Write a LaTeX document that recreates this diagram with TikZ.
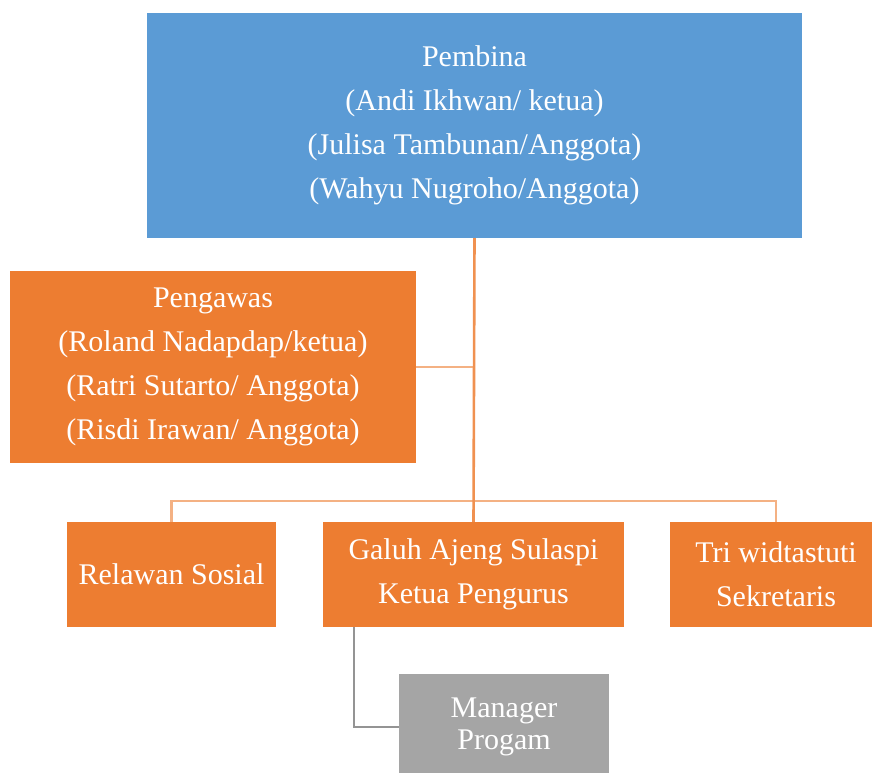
\documentclass[tikz,border=0pt]{standalone}
\usepackage{fontspec}
\setmainfont{Liberation Serif}
\usepackage{tikz}
\usetikzlibrary{calc}

\definecolor{boxblue}{HTML}{5B9BD5}
\definecolor{boxorange}{HTML}{ED7D31}
\definecolor{lineorange}{HTML}{F4B183}
\definecolor{boxgray}{HTML}{A5A5A5}

\begin{document}
\begin{tikzpicture}[x=1pt,y=-1pt,
    unit/.style={inner sep=0pt,align=center,text=white,
      font=\fontsize{30}{44}\selectfont},
    link/.style={lineorange,line width=2.2pt},
    mainlink/.style={boxorange!85!white,line width=2.6pt}]
  \useasboundingbox (0,0) rectangle (872,773);
  % boxes
  \node[unit,fill=boxblue,minimum width=655pt,minimum height=225pt] (pembina) at (474.5,125.5)
    {Pembina\\(Andi Ikhwan/ ketua)\\(Julisa Tambunan/Anggota)\\(Wahyu Nugroho/Anggota)};
  \node[unit,fill=boxorange,minimum width=406pt,minimum height=192pt] (pengawas) at (213,367)
    {Pengawas\\(Roland Nadapdap/ketua)\\(Ratri Sutarto/ Anggota)\\(Risdi Irawan/ Anggota)};
  \node[unit,fill=boxorange,minimum width=209pt,minimum height=105pt] (relawan) at (171.5,574.5)
    {Relawan Sosial};
  \node[unit,fill=boxorange,minimum width=301pt,minimum height=105pt] (ketua) at (473.5,574.5)
    {Galuh Ajeng Sulaspi\\Ketua Pengurus};
  \node[unit,fill=boxorange,minimum width=212pt,minimum height=105pt] (sekretaris) at (776,574.5)
    {Tri widtastuti\\Sekretaris};
  \node[unit,fill=boxgray,minimum width=210pt,minimum height=106pt,
        font=\fontsize{30}{32}\selectfont] (manager) at (504,727)
    {Manager\\Progam};
  % lines
  \coordinate (bar) at (474,501);
  \draw[link] (pengawas.east) -- (pengawas.east -| pembina.south);
  \draw[link] (relawan.north) |- (bar) -| (sekretaris.north);
  \draw[mainlink] (pembina.south) -- (ketua.north);
  \draw[boxgray!90!black,line width=1.6pt] ([xshift=31pt]ketua.south west) |- (manager.west);
\end{tikzpicture}
\end{document}
